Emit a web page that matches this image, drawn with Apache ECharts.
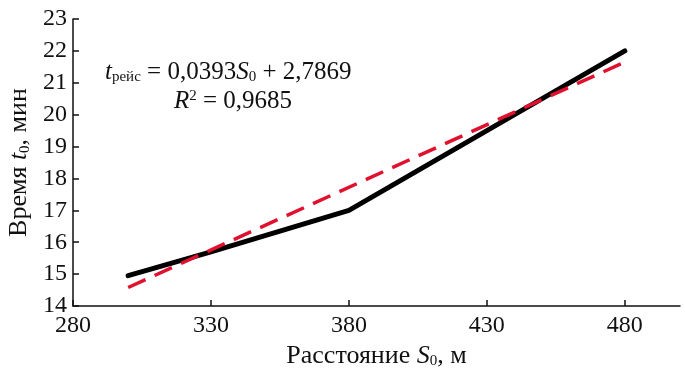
<!DOCTYPE html>
<html>
<head>
<meta charset="utf-8">
<script src="https://cdn.jsdelivr.net/npm/echarts@6/dist/echarts.min.js"></script>
<style>
  html, body { margin: 0; padding: 0; background: #fff; }
  #chart { width: 685px; height: 369px; }
</style>
</head>
<body>
<div id="chart"></div>
<script>
// measured data
const distances = [300, 330, 380, 480];
const tripTimes = [14.95, 15.7, 17.0, 22.0];
// trend line ends
const trendX = [300, 480];
const trendY = [14.58, 21.65];
const xTicks = [280, 330, 380, 430, 480];

const FONT = '"Liberation Serif", "DejaVu Serif", serif';
const INK = '#111';

const chart = echarts.init(document.getElementById('chart'));

const pair = (xs, ys) => xs.map((x, i) => [x, ys[i]]);

const richName = {
    n: { fontSize: 26, fontFamily: FONT, color: INK },
    i: { fontSize: 26, fontFamily: FONT, fontStyle: 'italic', color: INK },
    s: { fontSize: 15, fontFamily: FONT, color: INK, verticalAlign: 'bottom', padding: [9, 0, 0, 0] }
};

const option = {
    animation: false,
    textStyle: { fontFamily: FONT, color: INK },
    grid: { left: 73, right: 5, top: 19, bottom: 63, containLabel: false, outerBoundsMode: 'none' },
    xAxis: {
        type: 'value',
        min: 280,
        max: 500,
        interval: 50,
        splitLine: { show: false },
        axisLine: { lineStyle: { color: INK, width: 1.5 } },
        axisTick: { inside: true, length: 6, customValues: xTicks, lineStyle: { color: INK, width: 1.5 } },
        axisLabel: { customValues: xTicks, fontSize: 24, margin: 8, color: INK, fontFamily: FONT },
        name: '{n|Расстояние }{i|S}{s|0}{n|, м}',
        nameLocation: 'middle',
        nameGap: 37,
        nameTextStyle: { rich: richName }
    },
    yAxis: {
        type: 'value',
        min: 14,
        max: 23,
        interval: 1,
        splitLine: { show: false },
        axisLine: { show: true, lineStyle: { color: INK, width: 1.5 } },
        axisTick: { show: true, inside: true, length: 6, lineStyle: { color: INK, width: 1.5 } },
        axisLabel: { fontSize: 24, margin: 6, color: INK, fontFamily: FONT },
        name: '{n|Время }{i|t}{s|0}{n|, мин}',
        nameLocation: 'middle',
        nameGap: 37,
        nameTextStyle: { rich: richName }
    },
    graphic: [
        {
            type: 'text',
            left: 105,
            top: 60,
            style: {
                text: '{i|t}{s|рейс}{n| = 0,0393}{i|S}{s|0}{n| + 2,7869}',
                rich: {
                    n: { fontSize: 25, fontFamily: FONT, fill: INK },
                    i: { fontSize: 25, fontFamily: FONT, fontStyle: 'italic', fill: INK },
                    s: { fontSize: 15, fontFamily: FONT, fill: INK, verticalAlign: 'bottom', padding: [9, 0, 0, 0] }
                }
            }
        },
        {
            type: 'text',
            left: 174,
            top: 89,
            style: {
                text: '{i|R}{p|2}{n| = 0,9685}',
                rich: {
                    n: { fontSize: 25, fontFamily: FONT, fill: INK },
                    i: { fontSize: 25, fontFamily: FONT, fontStyle: 'italic', fill: INK },
                    p: { fontSize: 15, fontFamily: FONT, fill: INK, verticalAlign: 'top', padding: [0, 0, 9, 0] }
                }
            }
        }
    ],
    series: [
        {
            type: 'line',
            data: pair(distances, tripTimes),
            symbol: 'none',
            lineStyle: { color: '#000', width: 5, cap: 'round', join: 'round' },
            z: 2
        },
        {
            type: 'line',
            data: pair(trendX, trendY),
            symbol: 'none',
            lineStyle: { color: '#e0102f', width: 3.5, type: [19, 10] },
            z: 3
        }
    ]
};

chart.setOption(option);
</script>
</body>
</html>
